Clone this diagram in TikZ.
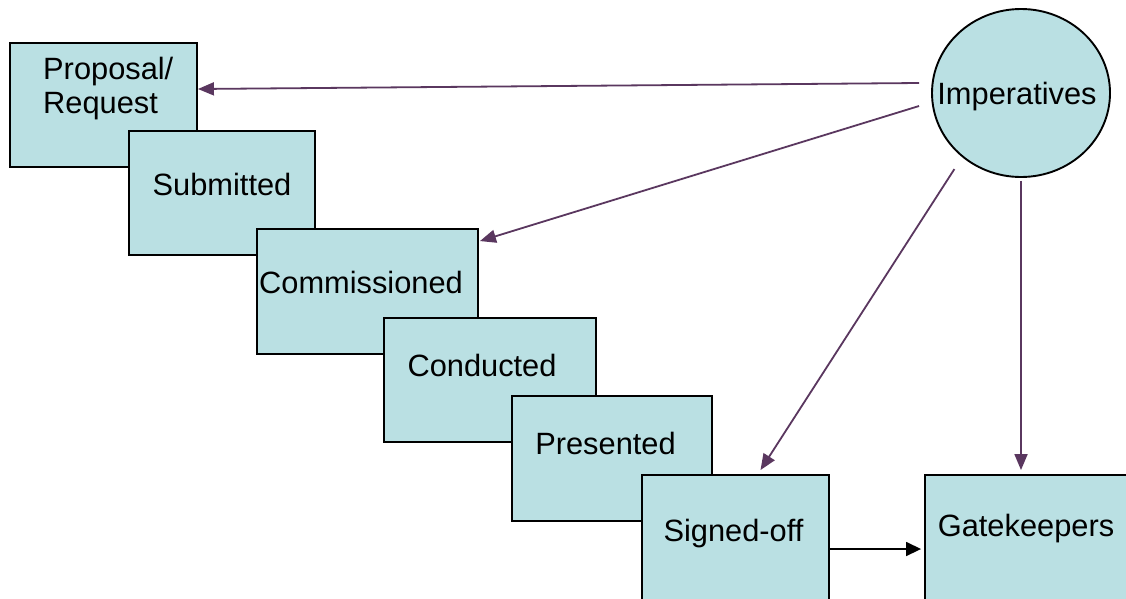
\documentclass[tikz,border=0pt]{standalone}
\usepackage{fontspec}
\setmainfont{Liberation Sans}
\usetikzlibrary{arrows.meta,shapes.geometric}
\definecolor{boxfill}{RGB}{186,224,227}
\definecolor{arrpurple}{RGB}{90,55,95}
\begin{document}
\begin{tikzpicture}[x=1pt,y=-1pt,
  stagebox/.style={draw=black,line width=1.9pt,fill=boxfill,rectangle,inner sep=0pt},
  lbl/.style={inner sep=0pt,font=\fontsize{30.8}{36}\selectfont},
  imparrow/.style={draw=arrpurple,line width=1.8pt,-{Triangle[length=16pt,width=13pt]}},
  blkarrow/.style={draw=black,line width=1.6pt,-{Triangle[length=15pt,width=14pt]}}]
\clip (0,0) rectangle (1126,598);
\fill[white] (0,0) rectangle (1126,598);
% stage boxes
\node[stagebox,minimum width=187pt,minimum height=124pt] (b1) at (103.5,105) {};
\node[lbl,anchor=base west] (t1a) at (43,79) {Proposal/};
\node[lbl,anchor=base west] (t1b) at (43,113) {Request};
\node[stagebox,minimum width=186pt,minimum height=124pt] (b2) at (222,193) {};
\node[lbl,anchor=base] (t2) at (222,195) {Submitted};
\node[stagebox,minimum width=221pt,minimum height=125pt] (b3) at (367.5,291.5) {};
\node[lbl,anchor=base] (t3) at (361,293) {Commissioned};
\node[stagebox,minimum width=212pt,minimum height=124pt] (b4) at (490,380) {};
\node[lbl,anchor=base] (t4) at (482,376) {Conducted};
\node[stagebox,minimum width=200pt,minimum height=125pt] (b5) at (612,458.5) {};
\node[lbl,anchor=base] (t5) at (605.5,454) {Presented};
\node[stagebox,minimum width=187pt,minimum height=148pt] (b6) at (735.5,549) {};
\node[lbl,anchor=base] (t6) at (733.5,541) {Signed-off};
\node[stagebox,minimum width=215pt,minimum height=148pt] (b7) at (1032.5,549) {};
\node[lbl,anchor=base] (t7) at (1026,536) {Gatekeepers};
% imperatives
\node[draw=black,line width=1.9pt,fill=boxfill,ellipse,inner sep=0pt,
      minimum width=178pt,minimum height=168pt] (imp) at (1021,93) {};
\node[lbl,anchor=base] (timp) at (1017,104) {Imperatives};
% connectors
\draw[imparrow] ([xshift=-12pt,yshift=10pt]imp.west) -- ([yshift=16pt]b1.east);
\draw[imparrow] ([xshift=-12pt,yshift=-13pt]imp.west) -- ([xshift=1pt,yshift=-13pt]b3.north east);
\draw[imparrow] ([xshift=-3pt,yshift=-16pt]imp.south west) -- ([xshift=25pt,yshift=4pt]b6.north);
\draw[imparrow,shorten >=4pt] ([yshift=-3pt]imp.south) -- (imp.south |- b7.north);
\draw[blkarrow,shorten >=3pt] (b6.east) -- (b6.east -| b7.west);
\end{tikzpicture}
\end{document}
